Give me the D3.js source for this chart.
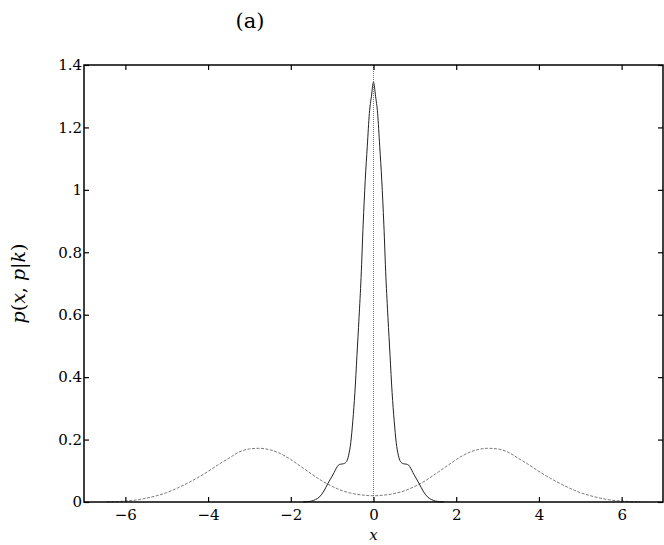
<!DOCTYPE html>
<html>
<head>
<meta charset="utf-8">
<script src="https://cdn.jsdelivr.net/npm/d3@7"></script>
<style>
  html, body { margin: 0; padding: 0; background: #fff; }
  svg { display: block; }
  text { font-family: "DejaVu Serif", "Liberation Serif", "Times New Roman", serif; fill: #000; }
</style>
</head>
<body>
<svg id="chart" width="664" height="545"></svg>
<script>
// ---- data ----
const xTicks = [-6, -4, -2, 0, 2, 4, 6];
const yTicks = [0, 0.2, 0.4, 0.6, 0.8, 1, 1.2, 1.4];

// solid curve (narrow central peak) - half profile |x| -> p
const peakAbsX = [0, 0.05, 0.1, 0.15, 0.2, 0.25, 0.3, 0.35, 0.4, 0.45, 0.5, 0.55, 0.6, 0.65, 0.7, 0.75, 0.8, 0.85, 0.9, 0.95, 1.0, 1.1, 1.2, 1.3, 1.4, 1.5, 1.6, 1.7];
const peakVals = [1.345, 1.30, 1.245, 1.14, 1.03, 0.89, 0.72, 0.59, 0.47, 0.35, 0.26, 0.19, 0.15, 0.13, 0.124, 0.122, 0.121, 0.118, 0.108, 0.095, 0.083, 0.06, 0.035, 0.017, 0.008, 0.003, 0.001, 0];

// dashed curve (two side bumps) - half profile |x| -> p
const bumpAbsX = [0, 0.25, 0.5, 0.75, 1.0, 1.25, 1.5, 1.75, 2.0, 2.25, 2.5, 2.75, 3.0, 3.25, 3.5, 3.75, 4.0, 4.25, 4.5, 4.75, 5.0, 5.25, 5.5, 5.75, 6.0, 6.25, 6.45];
const bumpVals = [0.020, 0.022, 0.027, 0.036, 0.05, 0.068, 0.09, 0.113, 0.136, 0.155, 0.167, 0.172, 0.17, 0.16, 0.14, 0.12, 0.098, 0.078, 0.06, 0.044, 0.03, 0.02, 0.012, 0.006, 0.003, 0.001, 0];

const vLineX = 0;

// ---- layout ----
const svg = d3.select("#chart");
const L = 84, R = 663, T = 65, B = 502;
const serif = '"DejaVu Serif", "Liberation Serif", "Times New Roman", serif';

const x = d3.scaleLinear().domain([-7, 7]).range([L, R]);
const y = d3.scaleLinear().domain([0, 1.4]).range([B, T]);

function mirror(absX, vals) {
  const pts = [];
  for (let i = absX.length - 1; i > 0; i--) pts.push([-absX[i], vals[i]]);
  for (let i = 0; i < absX.length; i++) pts.push([absX[i], vals[i]]);
  return pts;
}
const peakPts = mirror(peakAbsX, peakVals);
const bumpPts = mirror(bumpAbsX, bumpVals);

const line = d3.line().x(d => x(d[0])).y(d => y(d[1])).curve(d3.curveMonotoneX);

// curves
svg.append("path").datum(bumpPts).attr("d", line)
  .attr("fill", "none").attr("stroke", "#7a7a7a").attr("stroke-width", 1)
  .attr("stroke-dasharray", "3,1.5");

svg.append("path").datum(peakPts).attr("d", line)
  .attr("fill", "none").attr("stroke", "#222").attr("stroke-width", 1);

svg.append("line")
  .attr("x1", x(vLineX)).attr("x2", x(vLineX))
  .attr("y1", y(0)).attr("y2", y(1.4))
  .attr("stroke", "#777").attr("stroke-width", 1).attr("stroke-dasharray", "1,1");

// axes (inward ticks on all four sides)
const fmt = d => (d < 0 ? "\u2212" + Math.abs(d) : String(d));
const fs = "15px";

const gB = svg.append("g").attr("transform", `translate(0,${B})`)
  .call(d3.axisBottom(x).tickValues(xTicks).tickFormat(fmt).tickSizeInner(-5).tickSizeOuter(0).tickPadding(7));
const gT = svg.append("g").attr("transform", `translate(0,${T})`)
  .call(d3.axisTop(x).tickValues(xTicks).tickFormat("").tickSizeInner(-5).tickSizeOuter(0));
const gLft = svg.append("g").attr("transform", `translate(${L},0)`)
  .call(d3.axisLeft(y).tickValues(yTicks).tickFormat(d => String(+d.toFixed(1))).tickSizeInner(-5).tickSizeOuter(0).tickPadding(2));
const gRt = svg.append("g").attr("transform", `translate(${R},0)`)
  .call(d3.axisRight(y).tickValues(yTicks).tickFormat("").tickSizeInner(-5).tickSizeOuter(0));

[gB, gT, gLft, gRt].forEach(g => {
  g.attr("font-family", null).attr("font-size", null);
  g.select(".domain").remove();
  g.selectAll(".tick line").attr("stroke", "#000").attr("stroke-width", 1.2);
  g.selectAll("text").attr("font-family", serif).attr("font-size", fs).attr("fill", "#000");
});

// frame
svg.append("rect").attr("x", L).attr("y", T).attr("width", R - L).attr("height", B - T)
  .attr("fill", "none").attr("stroke", "#000").attr("stroke-width", 1.5);

// title
svg.append("text").attr("x", 250).attr("y", 28).attr("text-anchor", "middle")
  .attr("font-family", serif).attr("font-size", "21px").text("(a)");

// x label
svg.append("text").attr("x", x(0)).attr("y", 540).attr("text-anchor", "middle")
  .attr("font-family", serif).attr("font-size", "15px").attr("font-style", "italic").text("x");

// y label
const yl = svg.append("text").attr("transform", `translate(25,${(T + B) / 2}) rotate(-90)`)
  .attr("text-anchor", "middle").attr("font-family", serif).attr("font-size", "19px");
yl.append("tspan").attr("font-style", "italic").text("p");
yl.append("tspan").text("(");
yl.append("tspan").attr("font-style", "italic").text("x");
yl.append("tspan").text(", ");
yl.append("tspan").attr("font-style", "italic").text("p");
yl.append("tspan").text("|");
yl.append("tspan").attr("font-style", "italic").text("k");
yl.append("tspan").text(")");
</script>
</body>
</html>
